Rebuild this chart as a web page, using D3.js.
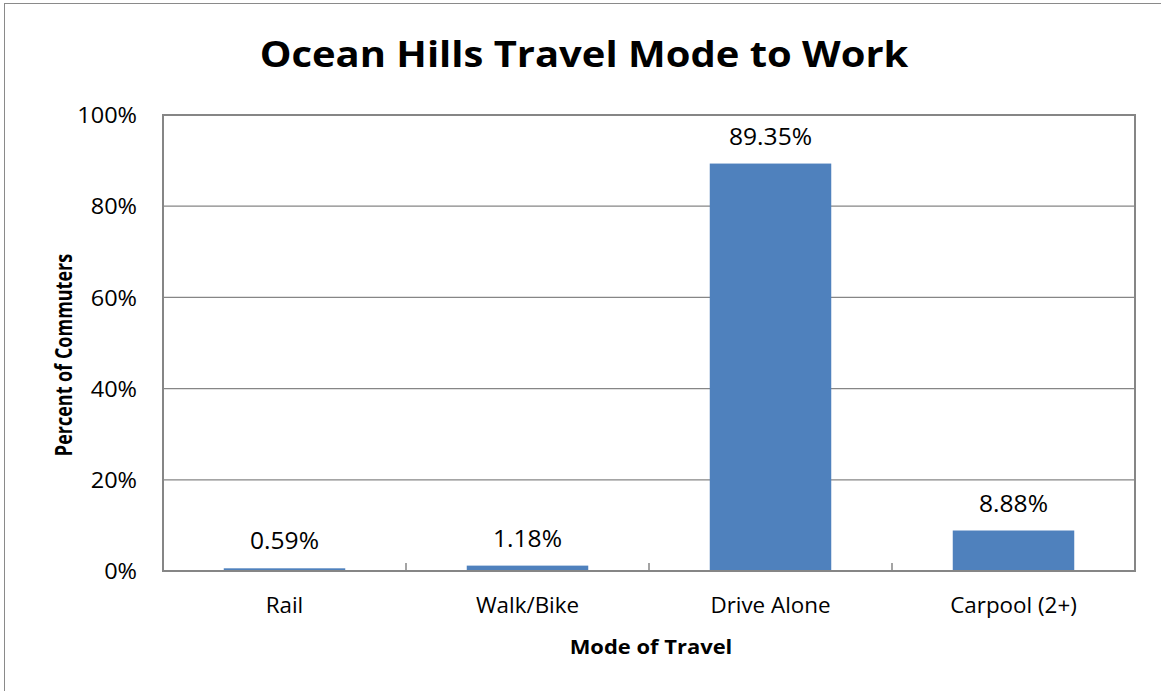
<!DOCTYPE html>
<html>
<head>
<meta charset="utf-8">
<script src="https://cdn.jsdelivr.net/npm/d3@7"></script>
<style>
  html, body { margin: 0; padding: 0; background: #fff; }
  svg { display: block; font-family: "Open Sans", sans-serif; }
</style>
</head>
<body>
<svg id="chart" width="1161" height="691"></svg>
<script>
// Share of commuters by travel mode
const categories = ["Rail", "Walk/Bike", "Drive Alone", "Carpool (2+)"];
const shares = [0.59, 1.18, 89.35, 8.88];
const yTicks = [0, 20, 40, 60, 80, 100];

const title = "Ocean Hills Travel Mode to Work";
const xTitle = "Mode of Travel";
const yTitle = "Percent of Commuters";

const W = 1161, H = 691;
const plot = { left: 163, top: 115, right: 1135, bottom: 571 };
const gridColor = "#868686";
const barColor = "#4F81BD";

const svg = d3.select("#chart");

// chart frame (only top and left edges fall inside the view)
svg.append("rect")
  .attr("x", 4.5).attr("y", 3.5)
  .attr("width", W + 10).attr("height", H + 10)
  .attr("fill", "#fff").attr("stroke", "#8a8a8a").attr("stroke-width", 1);

const x = d3.scaleBand()
  .domain(categories)
  .range([plot.left, plot.right])
  .paddingInner(0.5).paddingOuter(0.25);

const y = d3.scaleLinear()
  .domain([0, 100])
  .range([plot.bottom, plot.top]);

// horizontal gridlines
svg.append("g")
  .selectAll("line")
  .data(yTicks.filter(t => t > 0 && t < 100))
  .join("line")
  .attr("x1", plot.left).attr("x2", plot.right)
  .attr("y1", d => y(d)).attr("y2", d => y(d))
  .attr("stroke", gridColor).attr("stroke-width", 1.2);

const rows = categories.map((c, i) => ({ c, v: shares[i] }));

// bars
svg.append("g")
  .selectAll("rect")
  .data(rows)
  .join("rect")
  .attr("x", d => x(d.c))
  .attr("width", x.bandwidth())
  .attr("y", d => y(d.v))
  .attr("height", d => y(0) - y(d.v))
  .attr("fill", barColor);

// value labels above the bars
svg.append("g")
  .selectAll("text")
  .data(rows)
  .join("text")
  .attr("transform", d => `translate(${x(d.c) + x.bandwidth() / 2},${y(d.v) - 19}) scale(1.07,1)`)
  .attr("text-anchor", "middle")
  .attr("font-size", 23)
  .attr("fill", "#000")
  .text(d => d.v.toFixed(2) + "%");

// plot border
svg.append("rect")
  .attr("x", plot.left).attr("y", plot.top)
  .attr("width", plot.right - plot.left)
  .attr("height", plot.bottom - plot.top)
  .attr("fill", "none").attr("stroke", gridColor).attr("stroke-width", 2);

// y axis labels
const yAxis = d3.axisLeft(y)
  .tickValues(yTicks)
  .tickSize(0)
  .tickPadding(26)
  .tickFormat(d => d + "%");
const yg = svg.append("g").attr("transform", `translate(${plot.left},0)`).call(yAxis);
yg.select(".domain").remove();
yg.selectAll("text")
  .attr("font-family", "Open Sans, sans-serif")
  .attr("font-size", 22.4).attr("fill", "#000")
  .attr("dy", "0.34em")
  .attr("transform", "scale(1.05,1)")
  .attr("x", -26 / 1.05);

// x axis: inner ticks between categories, labels below
const step = x.step();
const boundaries = categories.slice(1).map(c => x(c) - x.paddingInner() * step / 2);
svg.append("g")
  .selectAll("line")
  .data(boundaries)
  .join("line")
  .attr("x1", d => d).attr("x2", d => d)
  .attr("y1", plot.bottom).attr("y2", plot.bottom - 8)
  .attr("stroke", gridColor).attr("stroke-width", 1.5);

svg.append("g")
  .selectAll("text")
  .data(categories)
  .join("text")
  .attr("x", d => x(d) + x.bandwidth() / 2)
  .attr("y", 613)
  .attr("text-anchor", "middle")
  .attr("font-size", 22.4)
  .attr("fill", "#000")
  .text(d => d);

// titles
svg.append("text")
  .attr("transform", "translate(584,67.3) scale(1.11,1)")
  .attr("text-anchor", "middle")
  .attr("font-size", 36).attr("font-weight", "bold")
  .attr("fill", "#000")
  .text(title);

svg.append("text")
  .attr("transform", "translate(651,654) scale(1.12,1)")
  .attr("text-anchor", "middle")
  .attr("font-size", 19.6).attr("font-weight", "bold")
  .attr("fill", "#000")
  .text(xTitle);

svg.append("text")
  .attr("transform", "translate(72,355) rotate(-90) scale(1,1.25)")
  .attr("text-anchor", "middle")
  .attr("font-size", 18).attr("font-weight", "bold")
  .attr("fill", "#000")
  .text(yTitle);
</script>
</body>
</html>
